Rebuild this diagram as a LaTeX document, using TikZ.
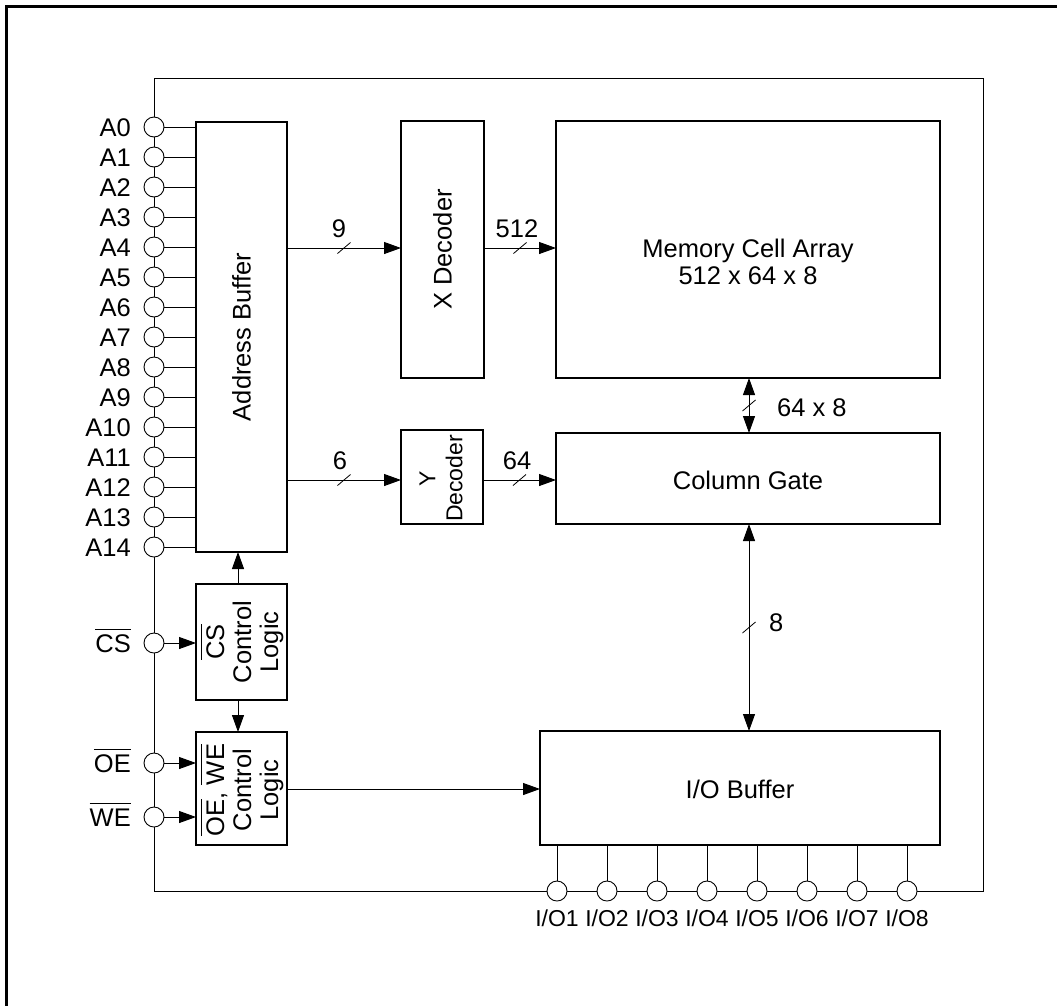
\documentclass[tikz,border=0pt]{standalone}
\usepackage{fontspec}
\setmainfont{Liberation Sans}
\usetikzlibrary{arrows.meta}
\newcommand\ovl[1]{\vbox{\hrule height 1.2pt\kern 4.5pt\hbox{#1}}}
\newcommand\busmark[1]{\draw[line width=0.8pt] ([shift={(-6.5,5.5)}]#1) -- ([shift={(6.5,-5.5)}]#1);}
\begin{document}
\begin{tikzpicture}[x=1pt,y=-1pt,
  font=\fontsize{25.5}{27}\selectfont,
  box/.style={draw, line width=1.3pt, inner sep=0pt, outer sep=0pt},
  pin/.style={draw, circle, fill=white, line width=0.9pt, minimum size=20pt, inner sep=0pt, outer sep=0pt},
  lbl/.style={inner sep=0pt, text height=18pt, text depth=0pt, label distance=13pt},
  iolbl/.style={inner sep=0pt, text height=16pt, text depth=0pt, label distance=9pt, font=\fontsize{23}{25}\selectfont},
  wire/.style={line width=1pt},
  arr/.style={line width=1pt, -{Triangle[length=17pt,width=12pt]}},
  darr/.style={line width=1pt, {Triangle[length=17pt,width=12pt]}-{Triangle[length=17pt,width=12pt]}},
  num/.style={inner sep=0pt}]
\useasboundingbox (0,0) rectangle (1057,1005);
% outer frame
\draw[line width=3pt] (6.5,1020) -- (6.5,6.5) -- (1075,6.5);
% package outline
\draw[line width=1pt] (154,78) rectangle (983,891);
% blocks
\node[box, minimum width=91pt, minimum height=430pt] (ab) at (241.5,337) {};
\node[rotate=90] (abt) at (ab) {Address Buffer};
\node[box, minimum width=83pt, minimum height=257pt] (xd) at (442.5,249.5) {};
\node[rotate=90] (xdt) at (xd) {X Decoder};
\node[box, minimum width=384pt, minimum height=257pt] (mc) at (748,249.5) {};
\node[align=center] (mct) at (748,262) {Memory Cell Array\\512 x 64 x 8};
\node[box, minimum width=82pt, minimum height=94pt] (yd) at (442,477) {};
\node[rotate=90, align=center, font=\fontsize{23}{27}\selectfont] (ydt) at (441,478.5) {Y\\Decoder};
\node[box, minimum width=384pt, minimum height=91pt] (cg) at (748,478.5) {};
\node (cgt) at (748,480) {Column Gate};
\node[box, minimum width=91pt, minimum height=116pt] (csb) at (241.5,642) {};
\node[rotate=90, align=center] (csbt) at (242,642) {\ovl{CS}\\Control\\Logic};
\node[box, minimum width=91pt, minimum height=113pt] (oeb) at (241.5,788.5) {};
\node[rotate=90, align=center] (oebt) at (242,790) {\ovl{OE}, \ovl{WE}\\Control\\Logic};
\node[box, minimum width=400pt, minimum height=114pt] (iob) at (740,788) {};
\node (iobt) at (740,789) {I/O Buffer};
% address pins
\foreach \i in {0,...,14}{
  \node[pin, label={[lbl]left:A\i}] (a\i) at (154,{127+30*\i}) {};
  \draw[wire] (a\i) -- (a\i -| ab.west);
}
% control pins
\node[pin, label={[lbl]left:\ovl{CS}}] (cs) at (154,643) {};
\node[pin, label={[lbl]left:\ovl{OE}}] (oe) at (154,763) {};
\node[pin, label={[lbl]left:\ovl{WE}}] (we) at (154,817) {};
\draw[arr] (cs) -- (cs -| csb.west);
\draw[arr] (oe) -- (oe -| oeb.west);
\draw[arr] (we) -- (we -| oeb.west);
% I/O pins
\foreach \k in {1,...,8}{
  \node[pin, label={[iolbl]below:I/O\k}] (io\k) at ({507+50*\k},891) {};
  \draw[wire] (io\k) -- (io\k |- iob.south);
}
% buses
\draw[arr] (ab.east |- 0,248) -- node[coordinate,midway] (s9) {} (xd.west |- 0,248);
\busmark{s9}
\node[num] (n9) at (339,229) {9};
\draw[arr] (xd.east |- 0,248) -- node[coordinate,midway] (s512) {} (mc.west |- 0,248);
\busmark{s512}
\node[num] (n512) at (517,229) {512};
\draw[arr] (ab.east |- 0,480) -- node[coordinate,midway] (s6) {} (yd.west |- 0,480);
\busmark{s6}
\node[num] (n6) at (340,461) {6};
\draw[arr] (yd.east |- 0,480) -- node[coordinate,midway] (s64) {} (cg.west |- 0,480);
\busmark{s64}
\node[num] (n64) at (517,461) {64};
\draw[darr] (mc.south -| 749,0) -- node[coordinate,midway] (s648) {} (cg.north -| 749,0);
\busmark{s648}
\node[num, anchor=west] (n648) at (777,408) {64 x 8};
\draw[darr] (cg.south -| 749,0) -- node[coordinate,midway] (s8) {} (iob.north -| 749,0);
\busmark{s8}
\node[num, anchor=west] (n8) at (769,623) {8};
% control
\draw[arr] (csb.north -| 238,0) -- (ab.south -| 238,0);
\draw[arr] (csb.south -| 238,0) -- (oeb.north -| 238,0);
\draw[arr] (oeb.east |- 0,789) -- (iob.west |- 0,789);
\end{tikzpicture}
\end{document}
